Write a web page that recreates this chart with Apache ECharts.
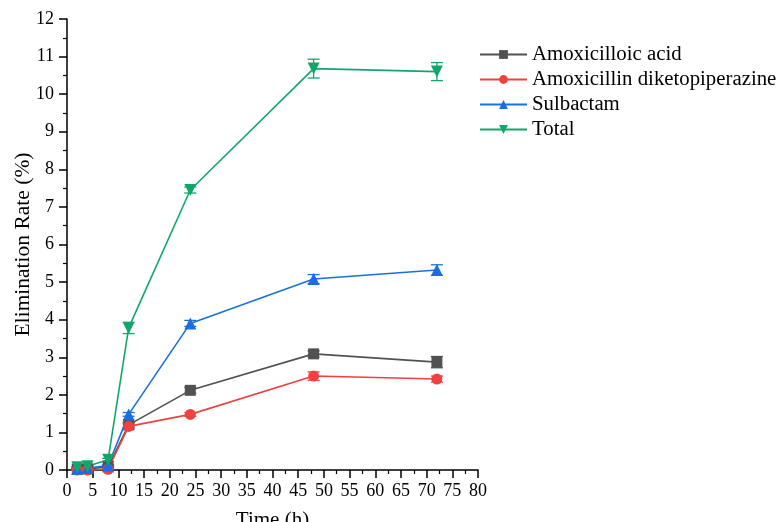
<!DOCTYPE html>
<html>
<head>
<meta charset="utf-8">
<script src="https://cdn.jsdelivr.net/npm/echarts@6/dist/echarts.min.js"></script>
<style>
html, body { margin: 0; padding: 0; background: #fff; }
#chart { width: 779px; height: 522px; }
</style>
</head>
<body>
<div id="chart"></div>
<script>
// Sampling times (h)
const times = [2, 4, 8, 12, 24, 48, 72];

// Elimination rate (%) per compound, with standard deviations
const amoxicilloicAcid = [0.02, 0.03, 0.08, 1.20, 2.12, 3.09, 2.87];
const amoxicilloicAcidSd = [0.01, 0.01, 0.02, 0.06, 0.08, 0.08, 0.15];
const diketopiperazine = [0.00, 0.00, 0.02, 1.16, 1.48, 2.50, 2.42];
const diketopiperazineSd = [0.01, 0.01, 0.01, 0.06, 0.05, 0.11, 0.08];
const sulbactam = [0.03, 0.05, 0.12, 1.48, 3.90, 5.08, 5.32];
const sulbactamSd = [0.01, 0.01, 0.02, 0.05, 0.08, 0.12, 0.14];
const total = [0.07, 0.10, 0.27, 3.78, 7.45, 10.68, 10.60];
const totalSd = [0.02, 0.02, 0.04, 0.15, 0.08, 0.25, 0.24];

const seriesNames = ['Amoxicilloic acid', 'Amoxicillin diketopiperazine', 'Sulbactam', 'Total'];
const seriesColors = ['#515151', '#F14040', '#1A6FDF', '#10A86A'];
const seriesSymbols = ['rect', 'circle', 'triangle', 'path://M0,0 L10,0 L5,9 Z'];
const seriesSizes = [11, 11, 12, 12];
const seriesValues = [amoxicilloicAcid, diketopiperazine, sulbactam, total];
const seriesSd = [amoxicilloicAcidSd, diketopiperazineSd, sulbactamSd, totalSd];

const FONT = '"Liberation Serif", "Times New Roman", serif';

function pairs(values) {
  return times.map((t, i) => [t, values[i]]);
}

// Error bars (mean ± SD) drawn with a custom series behind each line
function errorBarSeries(idx) {
  const vals = seriesValues[idx], sd = seriesSd[idx];
  return {
    type: 'custom',
    name: seriesNames[idx] + ' SD',
    z: 1,
    silent: true,
    data: times.map((t, i) => [t, vals[i] - sd[i], vals[i] + sd[i]]),
    renderItem: function (params, api) {
      const x = api.value(0);
      const lo = api.coord([x, api.value(1)]);
      const hi = api.coord([x, api.value(2)]);
      const w = 6;
      const style = { stroke: seriesColors[idx], lineWidth: 1.3 };
      return {
        type: 'group',
        children: [
          { type: 'line', shape: { x1: lo[0], y1: lo[1], x2: hi[0], y2: hi[1] }, style: style },
          { type: 'line', shape: { x1: lo[0] - w, y1: lo[1], x2: lo[0] + w, y2: lo[1] }, style: style },
          { type: 'line', shape: { x1: hi[0] - w, y1: hi[1], x2: hi[0] + w, y2: hi[1] }, style: style }
        ]
      };
    }
  };
}

const lineSeries = seriesNames.map((name, i) => ({
  type: 'line',
  name: name,
  z: 3,
  data: pairs(seriesValues[i]),
  symbol: seriesSymbols[i],
  symbolSize: seriesSizes[i],
  itemStyle: { color: seriesColors[i] },
  lineStyle: { color: seriesColors[i], width: 1.6 },
  emphasis: { disabled: true }
}));

const chart = echarts.init(document.getElementById('chart'), null, { renderer: 'canvas' });

chart.setOption({
  animation: false,
  backgroundColor: '#ffffff',
  grid: { left: 67, right: 301, top: 19, bottom: 52, containLabel: false, outerBoundsMode: 'none' },
  legend: {
    orient: 'vertical',
    left: 479,
    top: 44,
    padding: 0,
    itemWidth: 47,
    itemHeight: 11,
    itemGap: 4,
    data: seriesNames,
    textStyle: { fontFamily: FONT, fontSize: 20.8, color: '#000' }
  },
  xAxis: {
    type: 'value',
    min: 0,
    max: 80,
    interval: 5,
    name: 'Time (h)',
    nameLocation: 'middle',
    nameGap: 40,
    nameMoveOverlap: false,
    nameTextStyle: { fontFamily: FONT, fontSize: 21, color: '#000' },
    axisLine: { lineStyle: { color: '#000', width: 1.5 } },
    axisTick: { length: 8, lineStyle: { color: '#000', width: 1.5 } },
    minorTick: { show: true, splitNumber: 2, length: 4, lineStyle: { color: '#000', width: 1.2 } },
    axisLabel: { fontFamily: FONT, fontSize: 18, color: '#000', margin: 12 },
    splitLine: { show: false }
  },
  yAxis: {
    type: 'value',
    min: 0,
    max: 12,
    interval: 1,
    name: 'Elimination Rate (%)',
    nameLocation: 'middle',
    nameGap: 33,
    nameMoveOverlap: false,
    nameTextStyle: { fontFamily: FONT, fontSize: 21.5, color: '#000' },
    axisLine: { show: true, lineStyle: { color: '#000', width: 1.5 } },
    axisTick: { show: true, length: 8, lineStyle: { color: '#000', width: 1.5 } },
    minorTick: { show: true, splitNumber: 2, length: 4, lineStyle: { color: '#000', width: 1.2 } },
    axisLabel: { fontFamily: FONT, fontSize: 18, color: '#000', margin: 13 },
    splitLine: { show: false }
  },
  series: [0, 1, 2, 3].map(errorBarSeries).concat(lineSeries)
});
</script>
</body>
</html>
